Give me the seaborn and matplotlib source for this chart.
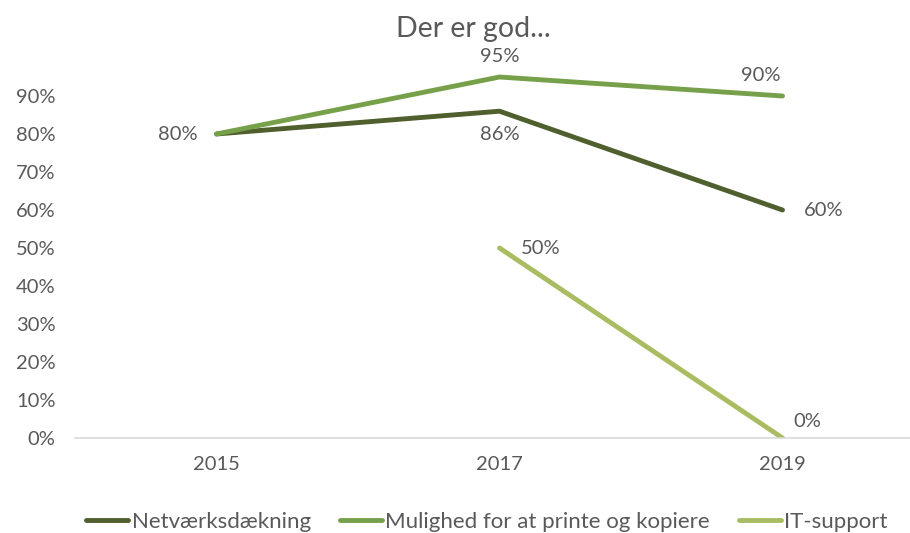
import numpy as np
import pandas as pd
import matplotlib
matplotlib.use("Agg")
import matplotlib.pyplot as plt
import seaborn as sns

# chart values
years = ["2015", "2017", "2019"]
netvaerk = [0.80, 0.86, 0.60]
printe = [0.80, 0.95, 0.90]
it_support = [np.nan, 0.50, 0.00]
series_names = ["Netværksdækning", "Mulighed for at printe og kopiere", "IT-support"]

colors = ["#4F5F2D", "#77A04A", "#A9BC62"]
# label offsets (points) per series and year, None = no label
offsets = [
    [(-28, 0), (0, -17), (30, 0)],
    [None, (0, 15), (-16, 15)],
    [None, (30, 0), (18, 12)],
]

sns.set_theme(style="white")
plt.rcParams["font.family"] = ["Lato", "DejaVu Sans"]
text_col = "#595959"

rows = []
for name, vals in zip(series_names, [netvaerk, printe, it_support]):
    for i, v in enumerate(vals):
        rows.append({"x": i, "year": years[i], "value": v, "serie": name})
df = pd.DataFrame(rows)

fig = plt.figure(figsize=(9.10, 5.33), dpi=100)
ax = fig.add_axes([75 / 910, 95 / 533, 849 / 910, 380 / 533])

sns.lineplot(data=df.dropna(), x="x", y="value", hue="serie", hue_order=series_names,
             palette=colors, linewidth=3.5, ax=ax, legend=True,
             solid_capstyle="round")

for s, (name, vals) in enumerate(zip(series_names, [netvaerk, printe, it_support])):
    for i, v in enumerate(vals):
        off = offsets[s][i]
        if off is None or np.isnan(v):
            continue
        ax.annotate(f"{v:.0%}", (i, v), xytext=off, textcoords="offset points",
                    ha="center", va="center", fontsize=14.5, color=text_col)

ax.set_xlim(-0.5, 2.5)
ax.set_ylim(0, 1.0)
ax.set_xticks(range(len(years)))
ax.set_xticklabels(years)
ax.set_yticks(np.arange(0, 1.0, 0.1))
ax.set_yticklabels([f"{t:.0%}" for t in np.arange(0, 1.0, 0.1)])
ax.tick_params(axis="both", length=0, labelsize=14.5, labelcolor=text_col)
ax.tick_params(axis="y", pad=14)
ax.tick_params(axis="x", pad=13)
ax.set_xlabel("")
ax.set_ylabel("")
for sp in ["top", "right", "left"]:
    ax.spines[sp].set_visible(False)
ax.spines["bottom"].set_color("#D9D9D9")
ax.spines["bottom"].set_linewidth(1.2)

fig.text(473 / 910, 1 - 29 / 533, "Der er god...", ha="center", va="center",
         fontsize=20.5, color=text_col)

handles, labels = ax.get_legend_handles_labels()
ax.get_legend().remove()
fig.legend(handles, labels, loc="center", bbox_to_anchor=(487 / 910, 1 - 522 / 533),
           ncol=3, frameon=False, fontsize=16, labelcolor=text_col,
           handlelength=1.9, handletextpad=0.15, columnspacing=1.3)

fig.savefig("out.png", dpi=100)
